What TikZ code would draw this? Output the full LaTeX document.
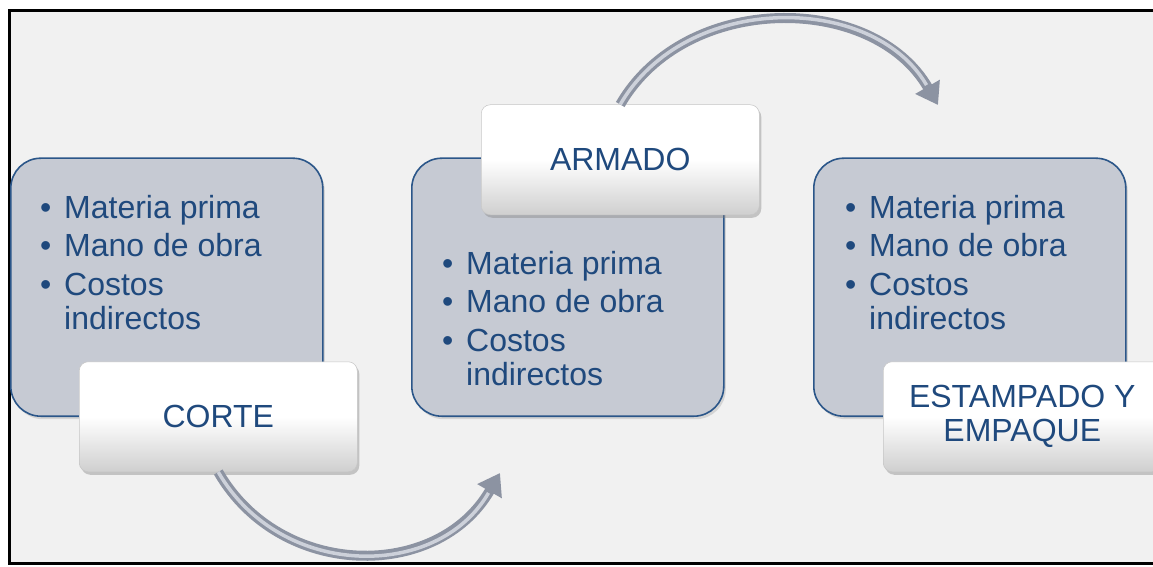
\documentclass[tikz,border=0pt]{standalone}
\usepackage{fontspec}
\setmainfont{Liberation Sans}
\usetikzlibrary{shadows,arrows.meta}
\definecolor{txt}{HTML}{1F497D}
\definecolor{bd}{HTML}{2B5689}
\definecolor{gfill}{HTML}{C6CAD3}
\definecolor{bg}{HTML}{F1F1F1}
\definecolor{tubeo}{HTML}{8C93A2}
\definecolor{tubei}{HTML}{CDD1DA}
\definecolor{lblb}{HTML}{CFCFCF}
\newcommand\costlist{\begin{tabular}[t]{@{}l@{}}%
\makebox[24pt][l]{\textbullet}Materia prima\\[4.5pt]
\makebox[24pt][l]{\textbullet}Mano de obra\\[4.5pt]
\makebox[24pt][l]{\textbullet}Costos\\
\makebox[24pt][l]{}indirectos\end{tabular}}
\begin{document}
\begin{tikzpicture}[x=1pt,y=1pt,
 gbox/.style={draw=bd, line width=1.6pt, fill=gfill, rounded corners=30pt,
   minimum width=312pt, minimum height=258pt, anchor=south west, inner sep=0pt,
   drop shadow={shadow xshift=2pt,shadow yshift=-3pt,opacity=0.25}},
 lbl/.style={draw=gray!45, line width=0.5pt, rounded corners=9pt,
   top color=white, bottom color=lblb, middle color=white,
   minimum width=278pt, minimum height=110pt, anchor=south west, inner sep=0pt,
   text=txt, font=\fontsize{32}{34}\selectfont, align=center,
   drop shadow={shadow xshift=2pt,shadow yshift=-3pt,opacity=0.4}},
 lst/.style={anchor=base west, inner sep=0pt, text=txt,
   font=\fontsize{32}{34}\selectfont},
 tube/.style={line width=10pt, color=tubeo, -{Triangle[width=27pt,length=21pt]}},
 tubehi/.style={line width=3.5pt, color=tubei, shorten >=23pt}]
\useasboundingbox (0,0) rectangle (1153,566);
\fill[bg] (9,3) rectangle (1160,555);
\draw[line width=3pt] (1160,555) -- (9,555) -- (9,3) -- (1160,3);
% grey boxes
\node[gbox] (b1) at (10,149) {};
\node[gbox] (b2) at (411,149) {};
\node[gbox] (b3) at (813,149) {};
% lists
\node[lst] (l1) at (40,348) {\costlist};
\node[lst] (l2) at (442,292) {\costlist};
\node[lst] (l3) at (845,348) {\costlist};
% labels
\node[lbl] (corte) at (79,94) {CORTE};
\node[lbl] (armado) at (481,351) {ARMADO};
\node[lbl] (estampado) at (883,94) {ESTAMPADO Y\\EMPAQUE};
% arrows
\coordinate (t1) at (500,93);
\coordinate (t2) at (938,461);
\draw[tube] (corte.south) to[out=-60,in=-120,looseness=1.13] (t1);
\draw[tubehi] (corte.south) to[out=-60,in=-120,looseness=1.13] (t1);
\draw[tube] (armado.north) to[out=60,in=120,looseness=1.05] (t2);
\draw[tubehi] (armado.north) to[out=60,in=120,looseness=1.05] (t2);
\end{tikzpicture}
\end{document}
